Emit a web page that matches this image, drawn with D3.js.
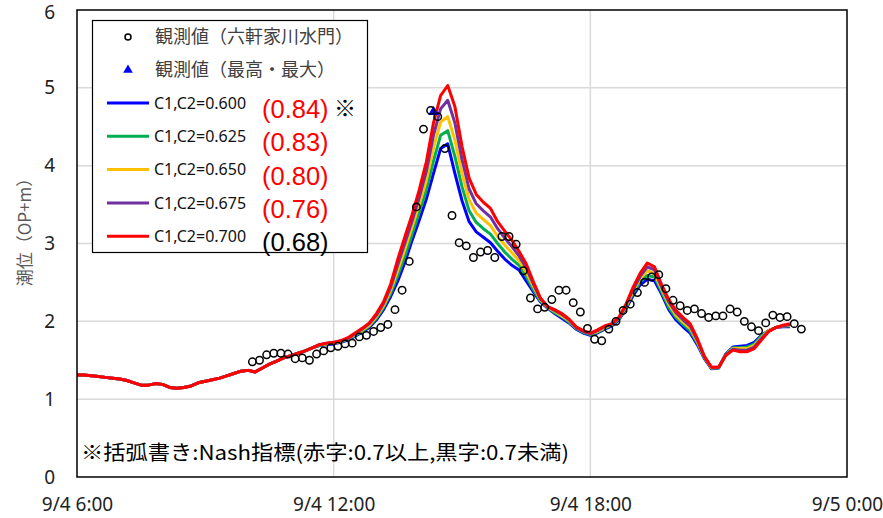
<!DOCTYPE html>
<html>
<head>
<meta charset="utf-8">
<script src="https://cdn.jsdelivr.net/npm/d3@7"></script>
<style>
  body { margin: 0; background: #fff; }
  svg { display: block; }
</style>
</head>
<body>
<script>
// ---- data ----
var seriesNames = ['C1,C2=0.600', 'C1,C2=0.625', 'C1,C2=0.650', 'C1,C2=0.675', 'C1,C2=0.700'];
var seriesColors = ['#0000ff', '#00b050', '#ffc000', '#7030a0', '#ff0000'];
var nashValues = ['(0.84)', '(0.83)', '(0.80)', '(0.76)', '(0.68)'];
var nashColors = ['#ff0000', '#ff0000', '#ff0000', '#ff0000', '#000000'];

// computed water level, every 10 min from 9/4 6:00
var c600 = [1.31,1.31,1.30,1.29,1.28,1.27,1.26,1.24,1.21,1.18,
  1.18,1.20,1.19,1.15,1.14,1.15,1.17,1.21,1.23,1.25,
  1.27,1.30,1.33,1.36,1.37,1.35,1.40,1.45,1.49,1.53,
  1.56,1.59,1.62,1.66,1.69,1.70,1.71,1.73,1.76,1.81,
  1.86,1.92,2.02,2.15,2.32,2.52,2.76,3.04,3.30,3.57,
  3.90,4.22,4.28,3.90,3.55,3.28,3.15,3.08,3.01,2.90,
  2.80,2.72,2.66,2.52,2.38,2.25,2.17,2.10,2.04,1.98,
  1.90,1.85,1.82,1.85,1.90,1.94,2.02,2.16,2.33,2.47,
  2.54,2.52,2.35,2.15,2.02,1.93,1.85,1.70,1.52,1.39,
  1.40,1.58,1.67,1.68,1.69,1.73,1.82,1.88,1.92,1.93,
  1.93];
var c625 = [1.31,1.31,1.30,1.29,1.28,1.27,1.26,1.24,1.21,1.18,
  1.18,1.20,1.19,1.15,1.14,1.15,1.17,1.21,1.23,1.25,
  1.27,1.30,1.33,1.36,1.37,1.35,1.40,1.45,1.49,1.53,
  1.56,1.59,1.62,1.66,1.69,1.71,1.72,1.74,1.77,1.82,
  1.87,1.94,2.04,2.18,2.36,2.59,2.84,3.12,3.40,3.69,
  4.06,4.39,4.45,4.12,3.73,3.42,3.27,3.19,3.12,3.00,
  2.89,2.80,2.72,2.58,2.41,2.26,2.18,2.11,2.06,1.99,
  1.91,1.86,1.83,1.86,1.91,1.95,2.03,2.18,2.36,2.51,
  2.59,2.57,2.38,2.18,2.05,1.96,1.88,1.72,1.53,1.40,
  1.40,1.58,1.66,1.66,1.67,1.71,1.81,1.88,1.92,1.94,
  1.94];
var c650 = [1.31,1.31,1.30,1.29,1.28,1.27,1.26,1.24,1.21,1.18,
  1.18,1.20,1.19,1.15,1.14,1.15,1.17,1.21,1.23,1.25,
  1.27,1.30,1.33,1.36,1.37,1.35,1.40,1.45,1.49,1.53,
  1.56,1.59,1.62,1.66,1.70,1.71,1.72,1.74,1.78,1.83,
  1.89,1.95,2.06,2.20,2.40,2.66,2.93,3.21,3.50,3.81,
  4.23,4.56,4.63,4.33,3.90,3.56,3.39,3.31,3.23,3.09,
  2.98,2.88,2.78,2.63,2.45,2.28,2.18,2.13,2.07,2.01,
  1.92,1.87,1.84,1.87,1.92,1.96,2.04,2.19,2.39,2.55,
  2.65,2.61,2.41,2.22,2.08,1.99,1.91,1.74,1.54,1.40,
  1.41,1.57,1.65,1.65,1.65,1.69,1.79,1.88,1.92,1.94,
  1.95];
var c675 = [1.31,1.31,1.30,1.29,1.28,1.27,1.26,1.24,1.21,1.18,
  1.18,1.20,1.19,1.15,1.14,1.15,1.17,1.21,1.23,1.25,
  1.27,1.30,1.33,1.36,1.37,1.35,1.40,1.45,1.49,1.53,
  1.56,1.59,1.62,1.66,1.70,1.72,1.73,1.75,1.78,1.84,
  1.90,1.97,2.08,2.23,2.44,2.73,3.01,3.29,3.59,3.93,
  4.39,4.73,4.84,4.55,4.08,3.70,3.51,3.42,3.34,3.19,
  3.07,2.96,2.84,2.69,2.48,2.29,2.19,2.14,2.09,2.02,
  1.92,1.87,1.84,1.88,1.93,1.96,2.04,2.21,2.41,2.58,
  2.70,2.66,2.44,2.25,2.11,2.02,1.94,1.76,1.54,1.41,
  1.41,1.57,1.64,1.63,1.63,1.67,1.78,1.87,1.92,1.94,
  1.96];
var c700 = [1.31,1.31,1.30,1.29,1.28,1.27,1.26,1.24,1.21,1.18,
  1.18,1.20,1.19,1.15,1.14,1.15,1.17,1.21,1.23,1.25,
  1.27,1.30,1.33,1.36,1.37,1.35,1.40,1.45,1.49,1.53,
  1.56,1.59,1.62,1.66,1.70,1.72,1.73,1.75,1.79,1.85,
  1.91,1.98,2.10,2.25,2.48,2.80,3.09,3.37,3.69,4.05,
  4.55,4.90,5.03,4.76,4.25,3.84,3.63,3.53,3.45,3.28,
  3.16,3.04,2.90,2.74,2.51,2.30,2.19,2.15,2.10,2.03,
  1.93,1.88,1.85,1.89,1.94,1.97,2.05,2.22,2.44,2.62,
  2.75,2.70,2.47,2.28,2.14,2.05,1.97,1.78,1.55,1.41,
  1.41,1.56,1.63,1.61,1.61,1.65,1.76,1.87,1.92,1.95,
  1.97];

// observed level (六軒家川水門), every 10 min from 9/4 10:06
var obsLevel = [1.48,1.50,1.57,1.59,1.59,1.58,1.52,1.53,1.50,1.58,
  1.62,1.66,1.68,1.71,1.72,1.80,1.82,1.87,1.92,1.96,
  2.15,2.40,2.77,3.47,4.47,4.71,4.63,4.22,3.36,3.01,
  2.97,2.82,2.89,2.91,2.82,3.09,3.09,2.99,2.65,2.30,
  2.16,2.18,2.28,2.40,2.40,2.24,2.12,1.91,1.77,1.75,
  1.90,2.00,2.14,2.22,2.37,2.50,2.57,2.60,2.42,2.27,
  2.20,2.14,2.16,2.10,2.05,2.07,2.07,2.16,2.12,2.00,
  1.93,1.88,1.98,2.08,2.05,2.06,1.97,1.90];

// observed peak (最高・最大)
var peakTime = [new Date(2019, 8, 4, 14, 20)];
var peakLevel = [4.69];

var yTicks = [0, 1, 2, 3, 4, 5, 6];
var xTicks = [new Date(2019, 8, 4, 6), new Date(2019, 8, 4, 12),
              new Date(2019, 8, 4, 18), new Date(2019, 8, 5, 0)];

var modelStart = new Date(2019, 8, 4, 6, 0);
var obsStart = new Date(2019, 8, 4, 10, 6);

// ---- chart ----
var W = 883, H = 518;
var plotL = 77, plotR = 847, plotT = 10, plotB = 477;

var svg = d3.select('body').append('svg')
    .attr('width', W)
    .attr('height', H);

var x = d3.scaleTime()
    .domain([xTicks[0], xTicks[xTicks.length - 1]])
    .range([plotL, plotR]);
var y = d3.scaleLinear()
    .domain([0, 6])
    .range([plotB, plotT]);

var tickFont = '"Noto Sans", sans-serif';

// gridlines
svg.append('g').selectAll('line')
    .data(yTicks.slice(1, -1))
    .enter().append('line')
    .attr('x1', plotL).attr('x2', plotR)
    .attr('y1', function(d) { return y(d); })
    .attr('y2', function(d) { return y(d); })
    .attr('stroke', '#d9d9d9')
    .attr('stroke-width', 1.5);
svg.append('g').selectAll('line')
    .data(xTicks.slice(1, -1))
    .enter().append('line')
    .attr('y1', plotT).attr('y2', plotB)
    .attr('x1', function(d) { return x(d); })
    .attr('x2', function(d) { return x(d); })
    .attr('stroke', '#d9d9d9')
    .attr('stroke-width', 1.5);

// axes (labels only)
var yAxis = svg.append('g')
    .attr('transform', 'translate(' + plotL + ',0)')
    .call(d3.axisLeft(y).tickValues(yTicks).tickSize(0).tickPadding(22)
      .tickFormat(d3.format('d')));
var xAxis = svg.append('g')
    .attr('transform', 'translate(0,' + plotB + ')')
    .call(d3.axisBottom(x).tickValues(xTicks).tickSize(0).tickPadding(21)
      .tickFormat(d3.timeFormat('%-m/%-d %-H:%M')));
[yAxis, xAxis].forEach(function(a) {
  a.select('.domain').remove();
  a.selectAll('text')
      .style('font-family', tickFont)
      .style('font-size', '19px')
      .attr('fill', '#222');
});
yAxis.selectAll('.tick').filter(function(d) { return d === 6; })
    .select('text').attr('dy', '0.45em');

// y axis title
svg.append('text')
    .attr('transform', 'translate(31,228) rotate(-90)')
    .attr('text-anchor', 'middle')
    .style('font-family', '"Noto Sans CJK JP", sans-serif')
    .style('font-size', '17px')
    .attr('fill', '#595959')
    .text('潮位（OP+m）');

// model lines
var modelSeries = [c600, c625, c650, c675, c700];
var line = d3.line()
    .x(function(d, i) { return x(d3.timeMinute.offset(modelStart, i * 10)); })
    .y(function(d) { return y(d); });

svg.append('g').selectAll('path')
    .data(modelSeries)
    .enter().append('path')
    .attr('d', line)
    .attr('fill', 'none')
    .attr('stroke', function(d, i) { return seriesColors[i]; })
    .attr('stroke-width', 3)
    .attr('stroke-linejoin', 'round');

// observations
var tri = d3.symbol().type(d3.symbolTriangle).size(50);
svg.append('g').selectAll('path')
    .data(peakLevel)
    .enter().append('path')
    .attr('d', tri)
    .attr('transform', function(d, i) { return 'translate(' + x(peakTime[i]) + ',' + y(d) + ')'; })
    .attr('fill', '#0000ff');

svg.append('g').selectAll('circle')
    .data(obsLevel)
    .enter().append('circle')
    .attr('cx', function(d, i) { return x(d3.timeMinute.offset(obsStart, i * 10)); })
    .attr('cy', function(d) { return y(d); })
    .attr('r', 3.7)
    .attr('fill', 'none')
    .attr('stroke', '#000')
    .attr('stroke-width', 1.5);

// plot frame
svg.append('rect')
    .attr('x', plotL).attr('y', plotT)
    .attr('width', plotR - plotL).attr('height', plotB - plotT)
    .attr('fill', 'none')
    .attr('stroke', '#000')
    .attr('stroke-width', 1.5);

// legend
var lg = svg.append('g');
lg.append('rect')
    .attr('x', 92.5).attr('y', 20.5)
    .attr('width', 275).attr('height', 232)
    .attr('fill', '#fff')
    .attr('stroke', '#000')
    .attr('stroke-width', 1.2);

var jpFont = '"Noto Sans CJK JP", sans-serif';
lg.append('circle')
    .attr('cx', 128).attr('cy', 37).attr('r', 3)
    .attr('fill', 'none').attr('stroke', '#000').attr('stroke-width', 1.5);
lg.append('text')
    .attr('x', 155).attr('y', 37).attr('dy', '0.36em')
    .style('font-family', jpFont).style('font-size', '18px')
    .attr('fill', '#404040')
    .text('観測値（六軒家川水門）');
lg.append('path')
    .attr('d', d3.symbol().type(d3.symbolTriangle).size(40))
    .attr('transform', 'translate(128,70)')
    .attr('fill', '#0000ff');
lg.append('text')
    .attr('x', 155).attr('y', 70).attr('dy', '0.36em')
    .style('font-family', jpFont).style('font-size', '18px')
    .attr('fill', '#404040')
    .text('観測値（最高・最大）');

var rows = lg.selectAll('g.row')
    .data(seriesNames)
    .enter().append('g')
    .attr('class', 'row')
    .attr('transform', function(d, i) { return 'translate(0,' + (103 + i * 33.3) + ')'; });
rows.append('line')
    .attr('x1', 107).attr('x2', 149)
    .attr('stroke', function(d, i) { return seriesColors[i]; })
    .attr('stroke-width', 3);
rows.append('text')
    .attr('x', 154).attr('dy', '0.36em')
    .style('font-family', tickFont).style('font-size', '16px')
    .attr('fill', '#111')
    .text(function(d) { return d; });
rows.append('text')
    .attr('x', 262).attr('y', 15)
    .style('font-family', '"Liberation Sans", Arial, sans-serif').style('font-size', '25.5px')
    .attr('fill', function(d, i) { return nashColors[i]; })
    .text(function(d, i) { return nashValues[i]; });

lg.append('text')
    .attr('x', 334).attr('y', 116)
    .style('font-family', jpFont).style('font-size', '22px')
    .attr('fill', '#000')
    .text('※');

// note
svg.append('text')
    .attr('x', 81).attr('y', 460)
    .attr('textLength', 488)
    .attr('lengthAdjust', 'spacingAndGlyphs')
    .style('font-family', jpFont).style('font-size', '20px')
    .attr('fill', '#000')
    .text('※括弧書き:Nash指標(赤字:0.7以上,黒字:0.7未満)');
</script>
</body>
</html>
